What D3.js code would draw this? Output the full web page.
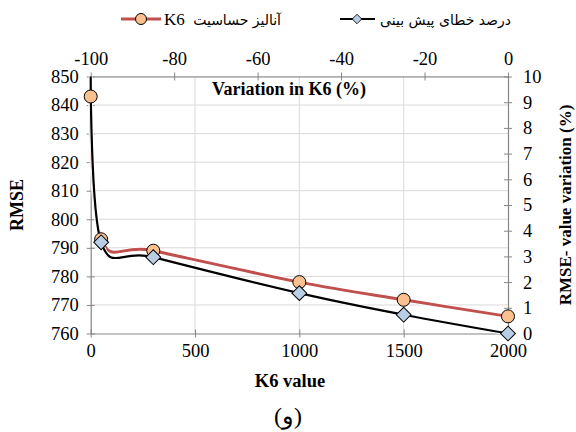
<!DOCTYPE html>
<html>
<head>
<meta charset="utf-8">
<script src="https://cdn.jsdelivr.net/npm/d3@7"></script>
<style>
  html, body { margin: 0; padding: 0; background: #fff; }
  svg text { font-family: "Liberation Serif", "Times New Roman", serif; fill: #000; }
</style>
</head>
<body>
<svg id="chart" width="576" height="432"></svg>
<script>
// ---- data ----
const k6Values = [0, 50, 300, 1000, 1500, 2000];
const rmseValues = [843, 793, 789, 778, 771.8, 766];
const variationPct = [-100, -97.5, -85, -50, -25, 0];
const errorPct = [10.05, 3.55, 2.97, 1.57, 0.73, 0];
const leftTicks = [760, 770, 780, 790, 800, 810, 820, 830, 840, 850];
const rightTicks = [0, 1, 2, 3, 4, 5, 6, 7, 8, 9, 10];
const bottomTicks = [0, 500, 1000, 1500, 2000];
const topTicks = [-100, -80, -60, -40, -20, 0];
const legendLabels = ["آنالیز حساسیت", "K6", "درصد خطای پیش بینی"];
const titles = { left: "RMSE", right: "RMSE- value variation (%)", bottom: "K6 value", top: "Variation in K6 (%)", caption: "(و)" };

// ---- layout ----
const L = 90.7, R = 508, T = 76.5, B = 333.5;
const svg = d3.select("#chart");

const x = d3.scaleLinear().domain([0, 2000]).range([L, R]);
const xTop = d3.scaleLinear().domain([-100, 0]).range([L, R]);
const y = d3.scaleLinear().domain([760, 850]).range([B, T]);
const y2 = d3.scaleLinear().domain([0, 10]).range([B, T]);

const grid = "#d9d9d9", axisCol = "#868686";
const fmt = d => String(d);

// gridlines
svg.append("g").selectAll("line.h").data(leftTicks.slice(1)).join("line")
  .attr("x1", L).attr("x2", R).attr("y1", d => y(d)).attr("y2", d => y(d))
  .attr("stroke", grid).attr("stroke-width", 1);
svg.append("g").selectAll("line.v").data(bottomTicks.slice(1, -1)).join("line")
  .attr("x1", d => x(d)).attr("x2", d => x(d)).attr("y1", T).attr("y2", B)
  .attr("stroke", grid).attr("stroke-width", 1);

// axes
function styleAxis(g) {
  g.select(".domain").attr("stroke", axisCol).attr("stroke-width", 1.2);
  g.selectAll(".tick line").attr("stroke", axisCol).attr("stroke-width", 1);
  g.selectAll(".tick text").style("font-size", "18.5px").style("fill", "#000");
}
const axL = svg.append("g").attr("transform", `translate(${L},0)`)
  .call(d3.axisLeft(y).tickValues(leftTicks).tickFormat(fmt).tickSizeInner(4).tickSizeOuter(0).tickPadding(8));
styleAxis(axL);
axL.selectAll(".tick line").attr("x1", 4);

const axR = svg.append("g").attr("transform", `translate(${R},0)`)
  .call(d3.axisRight(y2).tickValues(rightTicks).tickFormat(fmt).tickSizeInner(4).tickSizeOuter(0).tickPadding(11));
styleAxis(axR);
axR.selectAll(".tick line").attr("x1", -4);

const axB = svg.append("g").attr("transform", `translate(0,${B})`)
  .call(d3.axisBottom(x).tickValues(bottomTicks).tickFormat(fmt).tickSizeInner(4).tickSizeOuter(0).tickPadding(6));
styleAxis(axB);
axB.selectAll(".tick line").attr("y1", -4);

const axT = svg.append("g").attr("transform", `translate(0,${T})`)
  .call(d3.axisTop(xTop).tickValues(topTicks).tickFormat(fmt).tickSizeInner(4).tickSizeOuter(0).tickPadding(8));
styleAxis(axT);
axT.selectAll(".tick line").attr("y1", 4);

// clip
svg.append("clipPath").attr("id", "plotclip").append("rect")
  .attr("x", L - 10).attr("y", T).attr("width", R - L + 20).attr("height", B - T + 20);

const plot = svg.append("g").attr("clip-path", "url(#plotclip)");

const redData = k6Values.map((k, i) => [x(k), y(rmseValues[i])]);
const blackData = variationPct.map((v, i) => [xTop(v), y2(errorPct[i])]);
const line = d3.line().curve(d3.curveCardinal);

plot.append("path").attr("d", line(redData)).attr("fill", "none")
  .attr("stroke", "#fff").attr("stroke-width", 5);
plot.append("path").attr("d", line(redData)).attr("fill", "none")
  .attr("stroke", "#c0504d").attr("stroke-width", 3);
plot.append("path").attr("d", line(blackData)).attr("fill", "none")
  .attr("stroke", "#fff").attr("stroke-width", 4);
plot.append("path").attr("d", line(blackData)).attr("fill", "none")
  .attr("stroke", "#000").attr("stroke-width", 2.2);

// markers
plot.selectAll("circle.m").data(redData).join("circle")
  .attr("cx", d => d[0]).attr("cy", d => d[1]).attr("r", 6.5)
  .attr("fill", "#fac090").attr("stroke", "#000").attr("stroke-width", 1);
const diamond = d3.symbol().type(d3.symbolSquare).size(110);
plot.selectAll("path.d").data(blackData.filter((d, i) => errorPct[i] <= 10)).join("path")
  .attr("d", diamond())
  .attr("transform", d => `translate(${d[0]},${d[1]}) rotate(45)`)
  .attr("fill", "#b9cde5").attr("stroke", "#000").attr("stroke-width", 1);

// titles
function title(t, size) { return t.style("font-size", size + "px").attr("font-weight", "bold").attr("text-anchor", "middle"); }
title(svg.append("text").attr("transform", "translate(23,205) rotate(-90)").text(titles.left), 18);
title(svg.append("text").attr("transform", "translate(571,205) rotate(-90)").text(titles.right), 17);
title(svg.append("text").attr("x", 290).attr("y", 387).text(titles.bottom), 18.5);
title(svg.append("text").attr("x", 289).attr("y", 95).text(titles.top), 18);
svg.append("text").attr("x", 288).attr("y", 424).attr("text-anchor", "middle")
  .style("font-size", "24px").text(titles.caption);

// legend
const lg = svg.append("g");
lg.append("line").attr("x1", 121).attr("x2", 161).attr("y1", 19).attr("y2", 19)
  .attr("stroke", "#c0504d").attr("stroke-width", 3);
lg.append("circle").attr("cx", 141).attr("cy", 19).attr("r", 5.5)
  .attr("fill", "#fac090").attr("stroke", "#000").attr("stroke-width", 1);
lg.append("text").attr("x", 164).attr("y", 25).style("font-size", "17px").text(legendLabels[1]);
lg.append("text").attr("x", 281).attr("y", 25).attr("text-anchor", "end")
  .style("font-family", "'DejaVu Sans', sans-serif").style("font-size", "14px").text(legendLabels[0]);

lg.append("line").attr("x1", 340).attr("x2", 375).attr("y1", 19).attr("y2", 19)
  .attr("stroke", "#000").attr("stroke-width", 2.2);
lg.append("path").attr("d", d3.symbol().type(d3.symbolSquare).size(45)())
  .attr("transform", "translate(357,19) rotate(45)")
  .attr("fill", "#b9cde5").attr("stroke", "#000").attr("stroke-width", 0.8);
lg.append("text").attr("x", 511).attr("y", 25).attr("text-anchor", "end")
  .style("font-family", "'DejaVu Sans', sans-serif").style("font-size", "14px").text(legendLabels[2]);
</script>
</body>
</html>
